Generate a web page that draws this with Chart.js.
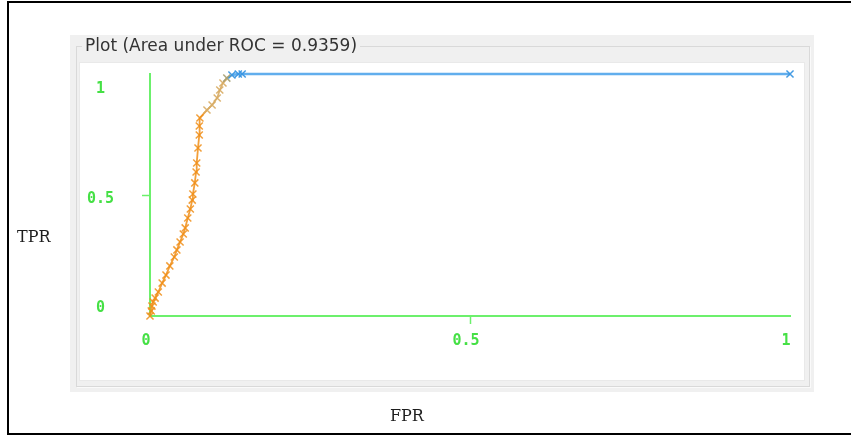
<!DOCTYPE html>
<html>
<head>
<meta charset="utf-8">
<title>ROC</title>
<script src="https://cdn.jsdelivr.net/npm/chart.js@4.4.1/dist/chart.umd.min.js"></script>
<style>
  html, body { margin: 0; padding: 0; background: #fff; }
  #wrap { position: relative; width: 851px; height: 437px; overflow: hidden; }
  #frame { position: absolute; left: 7px; top: 1px; width: 850px; height: 430px;
           border-left: 2px solid #000; border-top: 2px solid #000; border-bottom: 2px solid #000; }
  #panel { position: absolute; left: 70px; top: 35px; width: 744px; height: 357px; background: #f0f0f0; }
  #groupbox { position: absolute; left: 76px; top: 46px; width: 732px; height: 339px;
              border: 1px solid #d9d9d9; box-shadow: 1px 1px 0 #fafafa; }
  #plotbg { position: absolute; left: 80px; top: 63px; width: 724px; height: 317px; background: #fff;
            box-shadow: 0 0 0 1px #e9e9e9; }
  canvas { position: absolute; left: 0; top: 0; }
  .axname { position: absolute; font-family: "DejaVu Serif", "Liberation Serif", serif;
            font-size: 16px; line-height: 18px; color: #1e1e1e; white-space: nowrap; }
  #tpr { left: 17px; top: 228px; }
  #fpr { left: 390px; top: 407px; }
</style>
</head>
<body>
<div id="wrap">
  <div id="frame"></div>
  <div id="panel"></div>
  <div id="groupbox"></div>
  <div id="plotbg"></div>
  <canvas id="roc" width="851" height="437"></canvas>
  <div class="axname" id="tpr">TPR</div>
  <div class="axname" id="fpr">FPR</div>
</div>
<script>
// ROC curve points (false positive rate, true positive rate)
const fpr = [0, 0.002, 0.003, 0.005, 0.008, 0.013, 0.019, 0.025, 0.031, 0.038,
             0.042, 0.047, 0.052, 0.055, 0.059, 0.063, 0.066, 0.067, 0.070, 0.072,
             0.073, 0.075, 0.077, 0.077, 0.078, 0.089, 0.097, 0.105, 0.109, 0.114,
             0.120, 0.128, 0.138, 0.144, 1];
const tpr = [0, 0.021, 0.041, 0.058, 0.074, 0.099, 0.136, 0.169, 0.207, 0.244,
             0.273, 0.306, 0.339, 0.364, 0.405, 0.442, 0.479, 0.504, 0.550, 0.595,
             0.632, 0.694, 0.748, 0.785, 0.818, 0.851, 0.872, 0.901, 0.934, 0.963,
             0.983, 0.996, 1, 1, 1];

const xTicks = [0, 0.5, 1];
const yTicks = [0, 0.5, 1];
const plotTitle = 'Plot (Area under ROC = 0.9359)';

const GREEN_LINE = '#6cf06c';
const GREEN_TEXT = '#45e045';
const TICK_FONT = 'DejaVu Sans Mono';
const TITLE_FONT = { family: 'DejaVu Sans', size: 17, weight: 'normal', lineHeight: '18px' };

// points are shaded along the curve from orange (high threshold) to blue
function markColor(t) {
  if (t >= 0.995) return 'rgba(58,150,226,0.95)';
  if (t >= 0.975) return 'rgba(165,160,115,0.9)';
  if (t >= 0.83)  return 'rgba(216,172,100,0.9)';
  return 'rgba(240,142,24,0.85)';
}

// Weka-style y labels: the top label hangs below the axis end,
// the bottom one sits above it, the middle one is centred
function yLabelLines(v) {
  const s = String(v);
  if (v === 1) return ['', s];
  if (v === 0) return [s, ''];
  return ['', s];
}
function yLabelLineHeight(v) {
  if (v === 1) return '30px';
  if (v === 0) return '16px';
  return '8px';
}

const points = fpr.map((x, i) => ({ x: x, y: tpr[i] }));

// grey backdrop behind the title so the group box line stops at the text
const titleGap = {
  id: 'titleGap',
  beforeDraw(chart) {
    const tb = chart.titleBlock;
    if (!tb) return;
    const ctx = chart.ctx;
    ctx.save();
    ctx.font = `${TITLE_FONT.size}px ${TITLE_FONT.family}`;
    const w = ctx.measureText(plotTitle).width;
    ctx.fillStyle = '#f0f0f0';
    ctx.fillRect(tb.left - 3, 40, w + 6, 14);
    ctx.restore();
  }
};

new Chart(document.getElementById('roc'), {
  type: 'line',
  data: {
    datasets: [{
      data: points,
      clip: false,
      borderWidth: 1.8,
      tension: 0,
      pointStyle: 'crossRot',
      pointRadius: 5,
      pointHoverRadius: 5,
      pointBorderWidth: 1.5,
      pointBorderColor: ctx => markColor(ctx.raw ? ctx.raw.y : 0),
      pointBackgroundColor: 'rgba(0,0,0,0)',
      segment: {
        borderColor: ctx => ctx.p0.parsed.y >= 0.995 ? 'rgba(88,170,236,0.95)' : markColor(ctx.p0.parsed.y),
        borderWidth: ctx => ctx.p0.parsed.y >= 0.995 ? 2.4 : 1.8
      }
    }]
  },
  options: {
    responsive: false,
    animation: false,
    events: [],
    layout: { padding: { left: 85, right: 61, top: 0, bottom: 0 } },
    plugins: {
      legend: { display: false },
      tooltip: { enabled: false },
      title: {
        display: true,
        text: plotTitle,
        align: 'start',
        color: '#333333',
        font: TITLE_FONT,
        padding: { top: 38, bottom: 18 }
      }
    },
    scales: {
      x: {
        type: 'linear',
        min: 0, max: 1,
        afterBuildTicks: s => { s.ticks = xTicks.map(v => ({ value: v })); },
        afterFit: s => { s.height = 121; },
        border: { display: true, color: GREEN_LINE, width: 2 },
        grid: {
          drawOnChartArea: false,
          drawTicks: true,
          tickLength: 8,
          tickWidth: 1.5,
          tickColor: c => (c.tick && c.tick.value === 0.5) ? GREEN_LINE : 'rgba(0,0,0,0)'
        },
        ticks: {
          color: GREEN_TEXT,
          font: { family: TICK_FONT, size: 15, weight: 'bold' },
          padding: 8,
          labelOffset: -4,
          maxRotation: 0,
          autoSkip: false,
          callback: v => String(v)
        }
      },
      y: {
        type: 'linear',
        min: 0, max: 1,
        afterBuildTicks: s => { s.ticks = yTicks.map(v => ({ value: v })); },
        afterFit: s => { s.width = 65; },
        border: { display: true, color: GREEN_LINE, width: 2 },
        grid: {
          drawOnChartArea: false,
          drawTicks: true,
          tickLength: 8,
          tickWidth: 1.5,
          tickColor: c => (c.tick && c.tick.value === 0.5) ? GREEN_LINE : 'rgba(0,0,0,0)'
        },
        ticks: {
          color: GREEN_TEXT,
          crossAlign: 'center',
          padding: 28,
          autoSkip: false,
          font: c => ({ family: TICK_FONT, size: 15, weight: 'bold', lineHeight: yLabelLineHeight(c.tick ? c.tick.value : 0.5) }),
          callback: v => yLabelLines(v)
        }
      }
    }
  },
  plugins: [titleGap]
});
</script>
</body>
</html>
